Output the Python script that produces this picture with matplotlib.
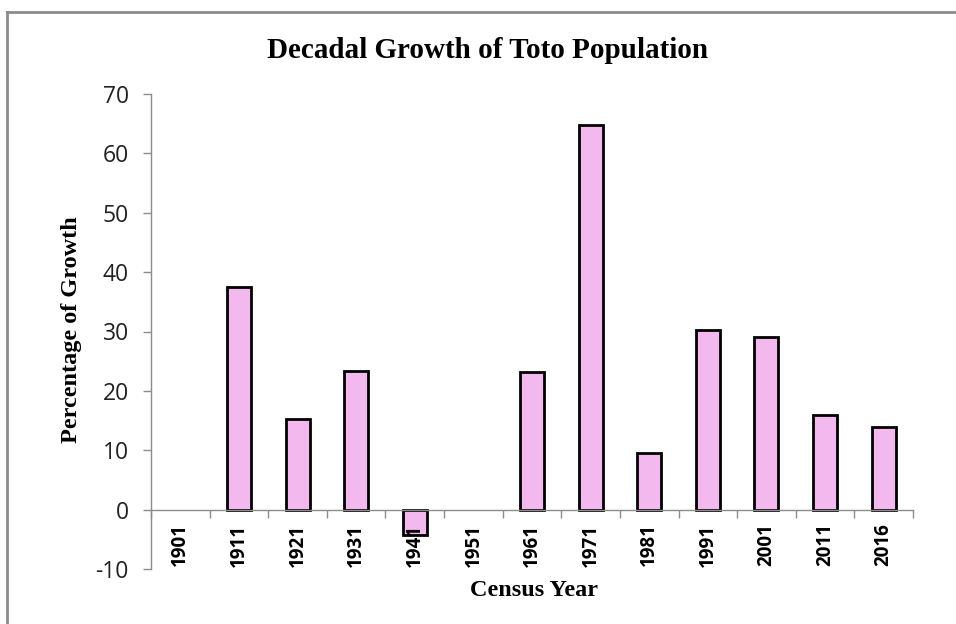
import matplotlib
matplotlib.use("Agg")
import matplotlib.pyplot as plt
from matplotlib.lines import Line2D
import numpy as np

years = ["1901", "1911", "1921", "1931", "1941", "1951", "1961", "1971",
         "1981", "1991", "2001", "2011", "2016"]
growth = [0.0, 37.5, 15.3, 23.4, -4.2, 0.0, 23.1, 64.8, 9.6, 30.3, 29.0, 16.0, 13.9]
yticks = [-10, 0, 10, 20, 30, 40, 50, 60, 70]

fig = plt.figure(figsize=(9.56, 6.24), dpi=100)
ax = fig.add_axes([151/956, 1-569/624, (913-151)/956, (569-94)/624])

x = np.arange(len(years))
edges = ["black" if v != 0 else "none" for v in growth]
ax.bar(x, growth, width=0.41, color="#F3B9EE", edgecolor=edges, linewidth=2.0, zorder=1)

ax.set_xlim(-0.5, len(years) - 0.5)
ax.set_ylim(-10, 70)
ax.set_yticks(yticks)
ax.set_yticklabels([str(v) for v in yticks], fontsize=16.5, family="Open Sans", color="#222222")

ax.spines["top"].set_visible(False)
ax.spines["right"].set_visible(False)
ax.spines["left"].set_color("#8c8c8c")
ax.spines["bottom"].set_color("#8c8c8c")
ax.spines["bottom"].set_position(("data", 0))
ax.spines["left"].set_linewidth(1.0)
ax.spines["bottom"].set_linewidth(1.0)

ax.set_xticks(np.arange(-0.5, len(years), 1.0))
ax.set_xticklabels([])
ax.set_xticks(x, minor=True)
ax.set_xticklabels(years, minor=True, rotation=90, fontsize=13.5, fontweight="bold",
                   family="Open Sans")
ax.tick_params(axis="x", which="major", direction="out", length=6, color="#8c8c8c", width=1)
ax.tick_params(axis="x", which="minor", length=0, pad=10)
ax.tick_params(axis="y", direction="out", length=6, color="#8c8c8c", width=1, pad=10)

fig.text(488/956, 1-50/624, "Decadal Growth of Toto Population", ha="center", va="center",
         fontsize=21, fontweight="bold", family="Liberation Serif")
fig.text(534/956, 1-591/624, "Census Year", ha="center", va="center",
         fontsize=17.5, fontweight="bold", family="Liberation Serif")
fig.text(72/956, 1-330/624, "Percentage of Growth", ha="center", va="center", rotation=90,
         fontsize=17.5, fontweight="bold", family="Liberation Serif")

# outer frame (top and left edges visible)
fig.add_artist(Line2D([7/956, 7/956], [0, 1-12/624], transform=fig.transFigure,
                      color="#8c8c8c", linewidth=2))
fig.add_artist(Line2D([7/956, 1], [1-12/624, 1-12/624], transform=fig.transFigure,
                      color="#8c8c8c", linewidth=2))

fig.savefig("out.png", dpi=100)
